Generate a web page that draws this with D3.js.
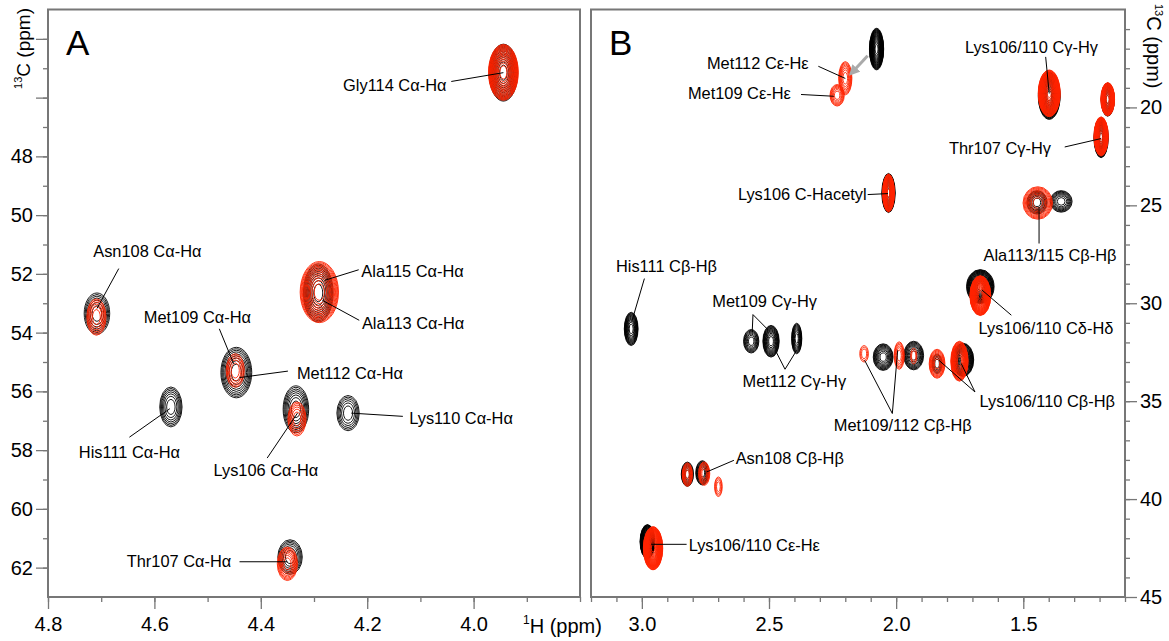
<!DOCTYPE html>
<html>
<head>
<meta charset="utf-8">
<script src="https://cdnjs.cloudflare.com/ajax/libs/d3/7.8.5/d3.min.js"></script>
<style>
body{margin:0;background:#fff;}
svg{font-family:"Liberation Sans", Arial, sans-serif;}
</style>
</head>
<body>
<div id="chart"></div>
<script>
//peaks: [1H ppm, 13C ppm, half width 1H, half width 13C, contour levels]
const aBlack = [
	[3.944, 45.15, 0.027, 0.97, 14], //Gly114
	[4.708, 53.35, 0.024, 0.70, 7],  //Asn108
	[4.446, 55.36, 0.029, 0.86, 9],  //Met109/112
	[4.569, 56.53, 0.021, 0.68, 7],  //His111
	[4.334, 56.61, 0.024, 0.80, 8],  //Lys106
	[4.236, 56.74, 0.021, 0.60, 6],  //Lys110
	[4.292, 52.65, 0.028, 0.99, 11], //Ala113/115
	[4.345, 61.64, 0.023, 0.59, 7]   //Thr107
];
const aRed = [
	[3.944, 45.14, 0.028, 0.95, 18],
	[4.709, 53.47, 0.018, 0.62, 6],
	[4.448, 55.29, 0.017, 0.57, 5],
	[4.332, 56.94, 0.017, 0.58, 6],
	[4.290, 52.62, 0.036, 1.04, 14],
	[4.350, 61.87, 0.019, 0.57, 8]
];
const bBlack = [
	[2.077, 17.02, 0.028, 1.06, 22],
	[1.398, 19.41, 0.043, 1.20, 22],
	[1.168, 19.60, 0.026, 0.85, 16],
	[1.194, 21.55, 0.028, 1.02, 20],
	[2.030, 24.37, 0.026, 1.00, 20],
	[1.446, 24.85, 0.040, 0.60, 8],
	[1.351, 24.80, 0.043, 0.55, 8],
	[3.042, 31.31, 0.027, 0.85, 12],
	[2.570, 31.94, 0.030, 0.60, 8],
	[2.492, 31.94, 0.032, 0.81, 12],
	[2.391, 31.80, 0.020, 0.78, 10],
	[2.051, 32.75, 0.039, 0.68, 10],
	[1.931, 32.67, 0.039, 0.73, 10],
	[1.839, 33.09, 0.020, 0.50, 5],
	[1.737, 32.89, 0.042, 0.85, 16],
	[1.669, 29.15, 0.054, 0.87, 20],
	[2.821, 38.73, 0.024, 0.62, 9],
	[2.762, 38.66, 0.026, 0.62, 9],
	[2.978, 42.17, 0.029, 0.87, 24]
];
const bRed = [
	[2.200, 18.51, 0.026, 0.85, 8],
	[2.232, 19.38, 0.028, 0.55, 7],
	[1.398, 19.28, 0.043, 1.19, 30],
	[1.168, 19.58, 0.027, 0.85, 22],
	[1.194, 21.48, 0.028, 1.00, 26],
	[2.030, 24.37, 0.023, 0.97, 24],
	[1.443, 24.88, 0.058, 0.83, 10],
	[2.126, 32.58, 0.017, 0.42, 3],
	[1.988, 32.67, 0.020, 0.70, 6],
	[1.931, 32.70, 0.012, 0.40, 2],
	[1.839, 33.09, 0.031, 0.74, 9],
	[1.751, 32.96, 0.034, 1.02, 18],
	[1.669, 29.61, 0.041, 1.02, 28],
	[2.821, 38.75, 0.020, 0.60, 7],
	[2.755, 38.70, 0.022, 0.60, 6],
	[2.699, 39.37, 0.015, 0.50, 4],
	[2.956, 42.51, 0.038, 1.10, 32]
];

//tick labels
const aXLabels = [4.8, 4.6, 4.4, 4.2, 4.0];
const aYLabels = [44, 46, 48, 50, 52, 54, 56, 58, 60, 62];
const bXLabels = [3.0, 2.5, 2.0, 1.5];
const bYLabels = [20, 25, 30, 35, 40, 45];

//annotations: [text, x, y, anchor, leader lines (ppm)]
const aNotes = [
	['Gly114 Cα-Hα', 4.051, 45.58, 'end', [[[4.042, 45.45], [3.944, 45.15]]]],
	['Asn108 Cα-Hα', 4.715, 51.22, 'start', [[[4.667, 51.82], [4.708, 53.18]]]],
	['Met109 Cα-Hα', 4.620, 53.49, 'start', [[[4.478, 53.87], [4.451, 55.06]]]],
	['Met112 Cα-Hα', 4.332, 55.38, 'start', [[[4.349, 55.31], [4.440, 55.53]]]],
	['His111 Cα-Hα', 4.742, 58.07, 'start', [[[4.647, 57.56], [4.571, 56.59]]]],
	['Lys106 Cα-Hα', 4.489, 58.67, 'start', [[[4.388, 58.27], [4.331, 56.74]]]],
	['Lys110 Cα-Hα', 4.121, 56.90, 'start', [[[4.133, 56.85], [4.230, 56.74]]]],
	['Ala115 Cα-Hα', 4.211, 51.90, 'start', [[[4.216, 51.86], [4.280, 52.22]]]],
	['Ala113 Cα-Hα', 4.210, 53.67, 'start', [[[4.215, 53.58], [4.284, 52.90]]]],
	['Thr107 Cα-Hα', 4.652, 61.80, 'start', [[[4.440, 61.80], [4.350, 61.80]]]]
];
const bNotes = [
	['Met112 Cε-Hε', 2.344, 17.76, 'end', [[[2.306, 17.90], [2.200, 18.52]]]],
	['Met109 Cε-Hε', 2.414, 19.29, 'end', [[[2.374, 19.34], [2.245, 19.43]]]],
	['Lys106/110 Cγ-Hγ', 1.468, 16.91, 'middle', [[[1.412, 17.42], [1.398, 19.29]]]],
	['Thr107 Cγ-Hγ', 1.391, 22.10, 'end', [[[1.337, 22.02], [1.194, 21.59]]]],
	['Lys106 C-Hacetyl', 2.116, 24.45, 'end', [[[2.112, 24.45], [2.032, 24.40]]]],
	['Ala113/115 Cβ-Hβ', 1.395, 27.55, 'middle', [[[1.438, 26.95], [1.438, 25.08]]]],
	['His111 Cβ-Hβ', 3.102, 28.11, 'start', [[[2.990, 28.74], [3.040, 30.95]]]],
	['Met109 Cγ-Hγ', 2.723, 29.90, 'start', [[[2.566, 31.47], [2.563, 30.58], [2.502, 31.38]]]],
	['Met112 Cγ-Hγ', 2.604, 33.98, 'start', [[[2.475, 32.40], [2.437, 33.37], [2.391, 32.40]]]],
	['Met109/112 Cβ-Hβ', 2.245, 36.23, 'start', [[[2.124, 32.91], [2.015, 35.63], [1.994, 32.40]]]],
	['Lys106/110 Cβ-Hβ', 1.672, 34.99, 'start', [[[1.832, 32.91], [1.690, 34.53], [1.744, 33.08]]]],
	['Lys106/110 Cδ-Hδ', 1.676, 31.29, 'start', [[[1.547, 30.61], [1.662, 29.33]]]],
	['Asn108 Cβ-Hβ', 2.631, 37.93, 'start', [[[2.638, 38.02], [2.746, 38.62]]]],
	['Lys106/110 Cε-Hε', 2.816, 42.35, 'start', [[[2.824, 42.31], [2.963, 42.31]]]]
];
//grey arrow from the free methionine peak to the shifted one
const bArrow = [[2.112, 17.36], [2.168, 18.14]];

const W = 1169, H = 641;
const plotTop = 9.5, plotBottom = 597;
const frameColor = '#777';
const redColor = '#ff2200';

const svg = d3.select('#chart')
	.append('svg')
	.attr('width', W)
	.attr('height', H);

svg.append('defs').append('marker')
	.attr('id', 'arrowhead')
	.attr('viewBox', '0 0 10 10')
	.attr('refX', 4).attr('refY', 5)
	.attr('markerWidth', 3.6).attr('markerHeight', 3.6)
	.attr('orient', 'auto')
	.append('path')
	.attr('d', 'M0,0L10,5L0,10z')
	.attr('fill', '#aaa');

const panelA = {
	x: d3.scaleLinear().domain([4.8, 3.8]).range([48, 580]),
	y: d3.scaleLinear().domain([43, 63]).range([plotTop, plotBottom]),
	black: aBlack, red: aRed, notes: aNotes,
	letter: 'A', side: 'left',
	xLabels: aXLabels, yLabels: aYLabels,
	xMinor: d3.range(38, 49).map(d => d / 10),
	yMinor: d3.range(44, 63),
	xFmt: d3.format('.1f'),
	yFmt: d => d >= 48 ? d : ''
};
const panelB = {
	x: d3.scaleLinear().domain([3.2, 1.1]).range([591, 1125]),
	y: d3.scaleLinear().domain([15, 45]).range([plotTop, plotBottom]),
	black: bBlack, red: bRed, notes: bNotes,
	letter: 'B', side: 'right',
	xLabels: bXLabels, yLabels: bYLabels,
	xMinor: d3.range(11, 33).map(d => d / 10),
	yMinor: d3.range(16, 45),
	xFmt: d3.format('.1f'),
	yFmt: d => d
};

function drawPanel(p){
	const g = svg.append('g');
	const x0 = p.x.range()[0], x1 = p.x.range()[1];

	//contours: black spectrum first, red on top
	const peaksG = g.append('g').attr('class', 'peaks');
	[[p.black, '#000'], [p.red, redColor]].forEach(function(set){
		set[0].forEach(function(pk){
			const cx = p.x(pk[0]), cy = p.y(pk[1]);
			const rx = Math.abs(p.x(pk[0] + pk[2]) - cx);
			const ry = Math.abs(p.y(pk[1] + pk[3]) - cy);
			const n = pk[4];
			peaksG.append('g')
				.selectAll('ellipse')
				.data(d3.range(n))
				.join('ellipse')
				.attr('cx', cx)
				.attr('cy', cy)
				.attr('rx', k => rx * Math.sqrt(1 - k / n))
				.attr('ry', k => ry * Math.sqrt(1 - k / n))
				.attr('fill', 'none')
				.attr('stroke', set[1])
				.attr('stroke-width', 0.9);
		});
	});

	//labels and leader lines
	const line = d3.line().x(d => p.x(d[0])).y(d => p.y(d[1]));
	p.notes.forEach(function(n){
		n[4].forEach(function(pts){
			g.append('path')
				.attr('d', line(pts))
				.attr('fill', 'none')
				.attr('stroke', '#000')
				.attr('stroke-width', 1);
		});
		g.append('text')
			.attr('x', p.x(n[1]))
			.attr('y', p.y(n[2]))
			.attr('dy', '0.35em')
			.attr('text-anchor', n[3])
			.style('font-size', '16.4px')
			.text(n[0]);
	});

	//frame
	g.append('rect')
		.attr('x', x0).attr('y', plotTop)
		.attr('width', x1 - x0).attr('height', plotBottom - plotTop)
		.attr('fill', 'none')
		.attr('stroke', frameColor)
		.attr('stroke-width', 2);

	//bottom axis
	g.append('g')
		.attr('transform', `translate(0,${plotBottom})`)
		.call(d3.axisBottom(p.x).tickValues(p.xMinor).tickSize(5).tickFormat(''))
		.call(styleAxis);
	g.append('g')
		.attr('transform', `translate(0,${plotBottom})`)
		.call(d3.axisBottom(p.x).tickValues(p.xLabels).tickSize(12).tickPadding(8).tickFormat(p.xFmt))
		.call(styleAxis);

	//vertical axis
	const ax = p.side === 'left' ? d3.axisLeft : d3.axisRight;
	const xv = p.side === 'left' ? x0 : x1;
	g.append('g')
		.attr('transform', `translate(${xv},0)`)
		.call(ax(p.y).tickValues(p.yMinor).tickSize(5).tickFormat(''))
		.call(styleAxis);
	g.append('g')
		.attr('transform', `translate(${xv},0)`)
		.call(ax(p.y).tickValues(p.yLabels).tickSize(12).tickPadding(3).tickFormat(p.yFmt))
		.call(styleAxis);

	//panel letter
	g.append('text')
		.attr('x', x0 + 18)
		.attr('y', 55)
		.style('font-size', '35px')
		.text(p.letter);

	return g;
}

function styleAxis(sel){
	sel.select('.domain').remove();
	sel.selectAll('.tick line').attr('stroke', frameColor).attr('stroke-width', 1.3);
	sel.selectAll('.tick text')
		.attr('fill', '#000')
		.style('font-size', '20px')
		.style('font-family', '"Liberation Sans", Arial, sans-serif');
}

drawPanel(panelA);
const gB = drawPanel(panelB);

gB.append('line')
	.attr('x1', panelB.x(bArrow[0][0])).attr('y1', panelB.y(bArrow[0][1]))
	.attr('x2', panelB.x(bArrow[1][0])).attr('y2', panelB.y(bArrow[1][1]))
	.attr('stroke', '#aaa')
	.attr('stroke-width', 3)
	.attr('marker-end', 'url(#arrowhead)');

//axis titles
const xTitle = svg.append('text')
	.attr('x', 523)
	.attr('y', 633)
	.style('font-size', '20px');
xTitle.append('tspan').attr('dy', -9).style('font-size', '12px').text('1');
xTitle.append('tspan').attr('dy', 9).text('H (ppm)');

const yTitleL = svg.append('text')
	.attr('transform', 'translate(30,8) rotate(-90)')
	.attr('text-anchor', 'end')
	.style('font-size', '19px');
yTitleL.append('tspan').attr('dy', -8).style('font-size', '11px').text('13');
yTitleL.append('tspan').attr('dy', 8).text('C (ppm)');

const yTitleR = svg.append('text')
	.attr('transform', 'translate(1147,4) rotate(90)')
	.attr('text-anchor', 'start')
	.style('font-size', '20px');
yTitleR.append('tspan').attr('dy', -8).style('font-size', '11px').text('13');
yTitleR.append('tspan').attr('dy', 8).text('C (ppm)');
</script>
</body>
</html>
